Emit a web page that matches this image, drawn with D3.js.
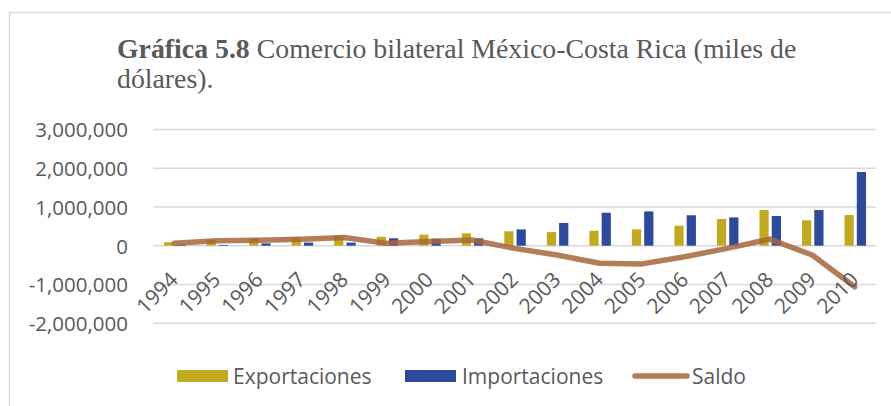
<!DOCTYPE html>
<html>
<head>
<meta charset="utf-8">
<script src="https://cdn.jsdelivr.net/npm/d3@7"></script>
<style>
  html, body { margin: 0; padding: 0; background: #fff; }
  svg { display: block; }
</style>
</head>
<body>
<svg id="chart" width="891" height="406"></svg>
<script>
// Years on the category axis
const years = ["1994","1995","1996","1997","1998","1999","2000","2001","2002",
               "2003","2004","2005","2006","2007","2008","2009","2010"];
// Exports, imports and balance, thousands of dollars
const exportaciones = [90000,150000,190000,220000,270000,230000,285000,320000,370000,
                       350000,385000,420000,515000,690000,920000,655000,790000];
const importaciones = [30000,20000,60000,80000,80000,190000,180000,190000,420000,
                       585000,850000,885000,785000,730000,765000,920000,1900000];
const saldo = [60000,130000,140000,165000,210000,60000,105000,145000,-70000,
               -240000,-455000,-470000,-285000,-70000,170000,-240000,-1060000];
const yTicks = [-2000000,-1000000,0,1000000,2000000,3000000];
const seriesNames = ["Exportaciones","Importaciones","Saldo"];

const colExp = "#c3a91f", colImp = "#2d4a9b", colSaldo = "#a5663c";
const textCol = "#595959", gridCol = "#d9d9d9";
const sans = "'Open Sans', sans-serif";
const serif = "'Liberation Serif', 'Times New Roman', serif";

const svg = d3.select("#chart");

// outer frame
svg.append("rect").attr("x", 9.5).attr("y", 12.5).attr("width", 900).attr("height", 420)
  .attr("fill", "none").attr("stroke", gridCol).attr("stroke-width", 1.5);

// title
const title = svg.append("text").attr("x", 117).attr("y", 58)
  .attr("font-family", serif).attr("font-size", 27.8).attr("fill", textCol);
title.append("tspan").attr("font-weight", "bold").text("Gráfica 5.8");
title.append("tspan").text(" Comercio bilateral México-Costa Rica (miles de");
svg.append("text").attr("x", 117).attr("y", 88)
  .attr("font-family", serif).attr("font-size", 27.8).attr("fill", textCol).text("dólares).");

// scales
const x = d3.scaleBand().domain(years).range([153, 876]).padding(0);
const y = d3.scaleLinear().domain([-2000000, 3000000]).range([323.2, 129.4]);
const xPair = d3.scaleBand().domain(["exp","imp"]).range([0, 21.5]).paddingInner(0.25);
const cx = d => x(d) + x.bandwidth() / 2;

// gridlines
svg.append("g").selectAll("line").data(yTicks).join("line")
  .attr("x1", 153).attr("x2", 876)
  .attr("y1", d => y(d)).attr("y2", d => y(d))
  .attr("stroke", gridCol).attr("stroke-width", 1.5);

// y axis labels (plain hyphen for negatives)
const fmt = d3.format(",");
const yAxis = svg.append("g").attr("transform", "translate(128,0)")
  .call(d3.axisLeft(y).tickValues(yTicks).tickFormat(d => fmt(d).replace("\u2212", "-"))
    .tickSize(0).tickPadding(0));
yAxis.select(".domain").remove();
yAxis.selectAll("text").attr("font-family", sans).attr("font-size", 20.5)
  .attr("fill", textCol).attr("dy", "0.36em");

// bars
const gBars = svg.append("g");
gBars.selectAll("rect.exp").data(years).join("rect").attr("class", "exp")
  .attr("x", d => cx(d) - 10.2 + xPair("exp"))
  .attr("width", xPair.bandwidth())
  .attr("y", (d, i) => y(Math.max(0, exportaciones[i])))
  .attr("height", (d, i) => Math.abs(y(exportaciones[i]) - y(0)))
  .attr("fill", colExp);
gBars.selectAll("rect.imp").data(years).join("rect").attr("class", "imp")
  .attr("x", d => cx(d) - 10.2 + xPair("imp"))
  .attr("width", xPair.bandwidth())
  .attr("y", (d, i) => y(Math.max(0, importaciones[i])))
  .attr("height", (d, i) => Math.abs(y(importaciones[i]) - y(0)))
  .attr("fill", colImp);

// balance line
const line = d3.line().x((d, i) => cx(years[i])).y(d => y(d));
svg.append("path").datum(saldo).attr("d", line)
  .attr("fill", "none").attr("stroke", colSaldo).attr("stroke-width", 5.5)
  .attr("stroke-linecap", "round").attr("stroke-linejoin", "round")
  .attr("stroke-opacity", 0.85);

// year labels
const xAxis = svg.append("g").attr("transform", "translate(0,281)")
  .call(d3.axisBottom(x).tickSize(0).tickPadding(0));
xAxis.select(".domain").remove();
xAxis.selectAll("text")
  .attr("font-family", sans).attr("font-size", 21).attr("fill", textCol)
  .attr("text-anchor", "end").attr("dy", 0).attr("y", 0)
  .attr("transform", "translate(5,0) rotate(-45)");

// legend
const lg = svg.append("g").attr("font-family", sans).attr("font-size", 21).attr("fill", textCol);
const legendItems = [
  {name: seriesNames[0], type: "rect", color: colExp, x: 177, tx: 233},
  {name: seriesNames[1], type: "rect", color: colImp, x: 405, tx: 462},
  {name: seriesNames[2], type: "line", color: colSaldo, x: 635, tx: 692}
];
legendItems.forEach(it => {
  if (it.type === "rect") {
    lg.append("rect").attr("x", it.x).attr("y", 370).attr("width", 51).attr("height", 12).attr("fill", it.color);
  } else {
    lg.append("line").attr("x1", it.x).attr("x2", it.x + 52).attr("y1", 376).attr("y2", 376)
      .attr("stroke", it.color).attr("stroke-width", 5.5).attr("stroke-linecap", "round")
      .attr("stroke-opacity", 0.85);
  }
  lg.append("text").attr("x", it.tx).attr("y", 376).attr("dy", "0.36em").text(it.name);
});
</script>
</body>
</html>
